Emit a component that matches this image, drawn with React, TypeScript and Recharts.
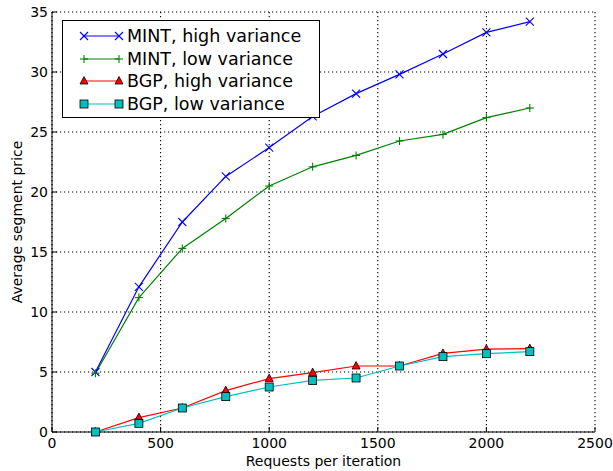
import React from 'react';
import { LineChart, Line, XAxis, YAxis, CartesianGrid, Legend } from 'recharts';

const requests = [200, 400, 600, 800, 1000, 1200, 1400, 1600, 1800, 2000, 2200];
const mintHigh = [5.0, 12.1, 17.5, 21.3, 23.7, 26.3, 28.2, 29.8, 31.5, 33.3, 34.2];
const mintLow = [4.9, 11.2, 15.3, 17.8, 20.5, 22.1, 23.05, 24.25, 24.8, 26.2, 27.0];
const bgpHigh = [0.0, 1.2, 2.0, 3.45, 4.45, 4.95, 5.5, 5.5, 6.55, 6.9, 6.95];
const bgpLow = [0.0, 0.72, 2.0, 2.95, 3.75, 4.3, 4.5, 5.5, 6.28, 6.53, 6.7];
const xTicks = [0, 500, 1000, 1500, 2000, 2500];
const yTicks = [0, 5, 10, 15, 20, 25, 30, 35];

const data = requests.map((r, i) => ({
  x: r,
  mintHigh: mintHigh[i],
  mintLow: mintLow[i],
  bgpHigh: bgpHigh[i],
  bgpLow: bgpLow[i],
}));

const FONT = '"DejaVu Sans", sans-serif';
const BLUE = '#0000ff';
const GREEN = '#008000';
const RED = '#ff0000';
const CYAN = '#00bfbf';

type MarkerKind = 'x' | 'plus' | 'tri' | 'square';

const Marker = ({ kind, cx, cy, color }: { kind: MarkerKind; cx: number; cy: number; color: string }) => {
  if (cx == null || cy == null || isNaN(cx) || isNaN(cy)) return null;
  const s = 4;
  if (kind === 'x') {
    return (
      <g>
        <line x1={cx - s} y1={cy - s} x2={cx + s} y2={cy + s} stroke={color} strokeWidth={1.1} />
        <line x1={cx - s} y1={cy + s} x2={cx + s} y2={cy - s} stroke={color} strokeWidth={1.1} />
      </g>
    );
  }
  if (kind === 'plus') {
    return (
      <g>
        <line x1={cx - s} y1={cy} x2={cx + s} y2={cy} stroke={color} strokeWidth={1.1} />
        <line x1={cx} y1={cy - s} x2={cx} y2={cy + s} stroke={color} strokeWidth={1.1} />
      </g>
    );
  }
  if (kind === 'tri') {
    return (
      <polygon
        points={`${cx},${cy - 4.5} ${cx - 4},${cy + 3} ${cx + 4},${cy + 3}`}
        fill={color}
        stroke="#000"
        strokeWidth={0.8}
      />
    );
  }
  return <rect x={cx - 4} y={cy - 4} width={8} height={8} fill={color} stroke="#000" strokeWidth={0.8} />;
};

const makeDot = (kind: MarkerKind, color: string) => (props: any) => (
  <Marker key={`${kind}-${props.index}`} kind={kind} cx={props.cx} cy={props.cy} color={color} />
);

const legendItems: { label: string; color: string; kind: MarkerKind }[] = [
  { label: 'MINT, high variance', color: BLUE, kind: 'x' },
  { label: 'MINT, low variance', color: GREEN, kind: 'plus' },
  { label: 'BGP, high variance', color: RED, kind: 'tri' },
  { label: 'BGP, low variance', color: CYAN, kind: 'square' },
];

const LegendBox = () => (
  <div
    style={{
      border: '1px solid #000',
      background: '#fff',
      width: 258,
      height: 98,
      boxSizing: 'border-box',
      paddingTop: 4,
      fontFamily: FONT,
      fontSize: 17.5,
      color: '#000',
    }}
  >
    {legendItems.map((it) => (
      <div key={it.label} style={{ display: 'flex', alignItems: 'center', height: 22.5 }}>
        <svg width={64} height={22} style={{ flex: 'none' }}>
          <line x1={21} y1={11} x2={56} y2={11} stroke={it.color} strokeWidth={1.2} />
          <Marker kind={it.kind} cx={21} cy={11} color={it.color} />
          <Marker kind={it.kind} cx={56} cy={11} color={it.color} />
        </svg>
        <span style={{ whiteSpace: 'nowrap', lineHeight: '22px' }}>{it.label}</span>
      </div>
    ))}
  </div>
);

const tickStyle = { fontFamily: FONT, fontSize: 14, fill: '#000' };

export default function App() {
  return (
    <div style={{ position: 'absolute', left: 0, top: 0, background: '#fff' }}>
      <LineChart
        width={613}
        height={471}
        data={data}
        margin={{ top: 12, right: 18, bottom: 0, left: 0 }}
      >
        <CartesianGrid
          xAxisId="b"
          yAxisId="l"
          stroke="#000"
          strokeDasharray="1.2 2.8"
          strokeWidth={1.1}
          horizontalValues={yTicks}
          verticalValues={xTicks}
        />
        <XAxis
          xAxisId="b"
          dataKey="x"
          type="number"
          domain={[0, 2500]}
          ticks={xTicks}
          interval={0}
          height={39}
          tickSize={-5}
          tickMargin={11}
          stroke="#000"
          tick={tickStyle}
          label={(p: any) => (
            <text
              x={323.5}
              y={466}
              textAnchor="middle"
              fontFamily={FONT}
              fontSize={14}
              fill="#000"
            >
              Requests per iteration
            </text>
          )}
        />
        <XAxis
          xAxisId="t"
          dataKey="x"
          type="number"
          orientation="top"
          domain={[0, 2500]}
          ticks={xTicks}
          interval={0}
          height={0}
          tickSize={-5}
          tick={false}
          stroke="#000"
        />
        <YAxis
          yAxisId="l"
          type="number"
          domain={[0, 35]}
          ticks={yTicks}
          interval={0}
          width={52}
          tickSize={-5}
          tickMargin={9}
          stroke="#000"
          tick={tickStyle}
          label={(p: any) => (
            <text
              x={17}
              y={222}
              transform="rotate(-90 17 222)"
              textAnchor="middle"
              dominantBaseline="central"
              fontFamily={FONT}
              fontSize={14}
              fill="#000"
            >
              Average segment price
            </text>
          )}
        />
        <YAxis
          yAxisId="r"
          type="number"
          orientation="right"
          domain={[0, 35]}
          ticks={yTicks}
          interval={0}
          width={0}
          tickSize={-5}
          tick={false}
          stroke="#000"
        />
        <Legend
          layout="vertical"
          align="center"
          verticalAlign="middle"
          content={() => <LegendBox />}
          wrapperStyle={{ position: 'absolute', left: 62, top: 20, width: 258, height: 98 }}
        />
        <Line
          xAxisId="b"
          yAxisId="l"
          dataKey="mintHigh"
          stroke={BLUE}
          strokeWidth={1.2}
          dot={makeDot('x', BLUE)}
          isAnimationActive={false}
        />
        <Line
          xAxisId="b"
          yAxisId="l"
          dataKey="mintLow"
          stroke={GREEN}
          strokeWidth={1.2}
          dot={makeDot('plus', GREEN)}
          isAnimationActive={false}
        />
        <Line
          xAxisId="b"
          yAxisId="l"
          dataKey="bgpHigh"
          stroke={RED}
          strokeWidth={1.2}
          dot={makeDot('tri', RED)}
          isAnimationActive={false}
        />
        <Line
          xAxisId="b"
          yAxisId="l"
          dataKey="bgpLow"
          stroke={CYAN}
          strokeWidth={1.2}
          dot={makeDot('square', CYAN)}
          isAnimationActive={false}
        />
      </LineChart>
    </div>
  );
}
